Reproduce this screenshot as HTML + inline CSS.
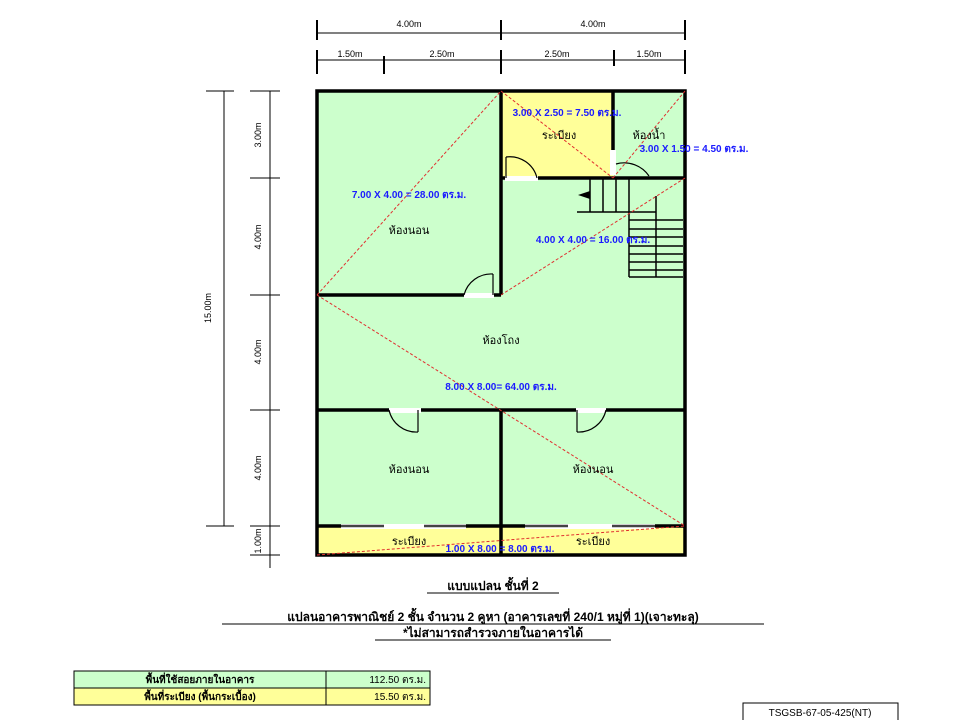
<!DOCTYPE html>
<html><head><meta charset="utf-8"><style>
html,body{margin:0;padding:0;background:#fff;width:960px;height:720px;overflow:hidden}
svg{display:block}
text{font-family:"Liberation Sans","Noto Sans CJK SC",sans-serif}
</style></head><body>
<svg width="960" height="720" viewBox="0 0 960 720" xmlns="http://www.w3.org/2000/svg">
<rect x="317" y="91" width="368" height="464" fill="#ccffcc"/>
<rect x="501" y="91" width="112" height="87" fill="#ffff99"/>
<rect x="317" y="526" width="368" height="29" fill="#ffff99"/>

<g stroke="#000" stroke-width="1" fill="none">
<line x1="317" y1="33" x2="685" y2="33"/>
<line x1="317" y1="20" x2="317" y2="40" stroke-width="2"/>
<line x1="501" y1="20" x2="501" y2="40" stroke-width="2"/>
<line x1="685" y1="20" x2="685" y2="40" stroke-width="2"/>
<line x1="317" y1="60" x2="685" y2="60"/>
<line x1="317" y1="50" x2="317" y2="74" stroke-width="2"/>
<line x1="384" y1="56" x2="384" y2="74" stroke-width="2"/>
<line x1="501" y1="50" x2="501" y2="74" stroke-width="2"/>
<line x1="614" y1="50" x2="614" y2="66" stroke-width="2"/>
<line x1="685" y1="50" x2="685" y2="74" stroke-width="2"/>
<line x1="224" y1="91" x2="224" y2="526"/>
<line x1="206" y1="91" x2="234" y2="91"/>
<line x1="206" y1="526" x2="234" y2="526"/>
<line x1="270" y1="91" x2="270" y2="568"/>
<line x1="250" y1="91" x2="280" y2="91"/>
<line x1="250" y1="178" x2="280" y2="178"/>
<line x1="250" y1="295" x2="280" y2="295"/>
<line x1="250" y1="410" x2="280" y2="410"/>
<line x1="250" y1="526" x2="280" y2="526"/>
<line x1="250" y1="555" x2="280" y2="555"/>
</g>
<g font-size="9" fill="#000" text-anchor="middle">
<text x="409" y="27">4.00m</text>
<text x="593" y="27">4.00m</text>
<text x="350" y="57">1.50m</text>
<text x="442" y="57">2.50m</text>
<text x="557" y="57">2.50m</text>
<text x="649" y="57">1.50m</text>
<text transform="translate(211,308) rotate(-90)">15.00m</text>
<text transform="translate(261,135) rotate(-90)">3.00m</text>
<text transform="translate(261,237) rotate(-90)">4.00m</text>
<text transform="translate(261,352) rotate(-90)">4.00m</text>
<text transform="translate(261,468) rotate(-90)">4.00m</text>
<text transform="translate(261,541) rotate(-90)">1.00m</text>
</g>

<g stroke="#000" stroke-width="1.5" fill="none">
<line x1="577" y1="212" x2="656" y2="212"/>
<line x1="590" y1="178" x2="590" y2="212"/>
<line x1="603" y1="178" x2="603" y2="212"/>
<line x1="616" y1="178" x2="616" y2="212"/>
<line x1="629" y1="178" x2="629" y2="277"/>
<line x1="656" y1="196" x2="656" y2="277"/>
<line x1="629" y1="220" x2="683" y2="220"/>
<line x1="629" y1="229" x2="683" y2="229"/>
<line x1="629" y1="237" x2="683" y2="237"/>
<line x1="629" y1="246" x2="683" y2="246"/>
<line x1="629" y1="254" x2="683" y2="254"/>
<line x1="629" y1="262" x2="683" y2="262"/>
<line x1="629" y1="270" x2="683" y2="270"/>
<line x1="629" y1="277" x2="683" y2="277"/>
</g>
<polygon points="578,195 590,191 590,199" fill="#000"/>

<g stroke="#000" stroke-width="3.5" fill="none">
<rect x="317" y="91" width="368" height="464"/>
<line x1="501" y1="91" x2="501" y2="295"/>
<line x1="613" y1="91" x2="613" y2="165"/>
<line x1="501" y1="178" x2="685" y2="178"/>
<line x1="317" y1="295" x2="501" y2="295"/>
<line x1="317" y1="410" x2="685" y2="410"/>
<line x1="501" y1="410" x2="501" y2="555"/>
<line x1="317" y1="526" x2="685" y2="526"/>
</g>
<g fill="#fff">
<rect x="505" y="176" width="33" height="5"/>
<rect x="464" y="293" width="30" height="5"/>
<rect x="389" y="408" width="32" height="5"/>
<rect x="576" y="408" width="30" height="5"/>
<rect x="610" y="150" width="6" height="25"/>
<rect x="341" y="524" width="125" height="5"/>
<rect x="525" y="524" width="130" height="5"/>
</g>
<g stroke="#000" stroke-width="1.2" fill="none">
<line x1="506" y1="178" x2="506" y2="157"/><path d="M506,157 A28,28 0 0 1 537,178"/>
<line x1="493" y1="295" x2="493" y2="274"/><path d="M464,295 A28,28 0 0 1 493,274"/>
<line x1="418" y1="410" x2="418" y2="432"/><path d="M389,410 A28,28 0 0 0 418,432"/>
<line x1="577" y1="410" x2="577" y2="432"/><path d="M577,432 A28,28 0 0 0 606,410"/>
<path d="M616,164 A30,30 0 0 1 649,176"/>
</g>
<g stroke="#444" stroke-width="2.5" fill="none">
<line x1="341" y1="526" x2="384" y2="526"/><line x1="424" y1="526" x2="466" y2="526"/>
<line x1="525" y1="526" x2="568" y2="526"/><line x1="612" y1="526" x2="655" y2="526"/>
</g>

<g stroke="#e03030" stroke-width="1" stroke-dasharray="3,2" fill="none">
<line x1="317" y1="295" x2="501" y2="91"/>
<line x1="501" y1="91" x2="613" y2="178"/>
<line x1="613" y1="178" x2="685" y2="91"/>
<line x1="501" y1="295" x2="685" y2="178"/>
<line x1="317" y1="295" x2="685" y2="526"/>
<line x1="317" y1="555" x2="685" y2="526"/>
</g>

<g font-size="11" fill="#000" text-anchor="middle">
<text x="559" y="139">ระเบียง</text>
<text x="649" y="139">ห้องน้ำ</text>
<text x="409" y="234">ห้องนอน</text>
<text x="501" y="344">ห้องโถง</text>
<text x="409" y="473">ห้องนอน</text>
<text x="593" y="473">ห้องนอน</text>
<text x="409" y="545">ระเบียง</text>
<text x="593" y="545">ระเบียง</text>
</g>
<g font-size="10" fill="#1a1aff" text-anchor="middle" font-weight="bold">
<text x="567" y="116">3.00 X 2.50 = 7.50 ตร.ม.</text>
<text x="694" y="152">3.00 X 1.50 = 4.50 ตร.ม.</text>
<text x="409" y="198">7.00 X 4.00 = 28.00 ตร.ม.</text>
<text x="593" y="243">4.00 X 4.00 = 16.00 ตร.ม.</text>
<text x="501" y="390">8.00 X 8.00= 64.00 ตร.ม.</text>
<text x="500" y="552">1.00 X 8.00 = 8.00 ตร.ม.</text>
</g>

<g font-size="12" fill="#000" text-anchor="middle" font-weight="bold">
<text x="493" y="590">แบบแปลน  ชั้นที่ 2</text>
<text x="493" y="621">แปลนอาคารพาณิชย์ 2 ชั้น จำนวน 2 คูหา (อาคารเลขที่ 240/1 หมู่ที่ 1)(เจาะทะลุ)</text>
<text x="493" y="637">*ไม่สามารถสำรวจภายในอาคารได้</text>
</g>
<line x1="427" y1="593" x2="559" y2="593" stroke="#000"/>
<line x1="222" y1="624" x2="764" y2="624" stroke="#000"/>
<line x1="375" y1="640" x2="611" y2="640" stroke="#000"/>

<rect x="74" y="671" width="252" height="17" fill="#ccffcc" stroke="#000"/>
<rect x="326" y="671" width="104" height="17" fill="#ccffcc" stroke="#000"/>
<rect x="74" y="688" width="252" height="17" fill="#ffff99" stroke="#000"/>
<rect x="326" y="688" width="104" height="17" fill="#ffff99" stroke="#000"/>
<g font-size="10" fill="#000">
<text x="200" y="683" text-anchor="middle" font-weight="bold">พื้นที่ใช้สอยภายในอาคาร</text>
<text x="200" y="700" text-anchor="middle" font-weight="bold">พื้นที่ระเบียง (พื้นกระเบื้อง)</text>
<text x="426" y="683" text-anchor="end">112.50 ตร.ม.</text>
<text x="426" y="700" text-anchor="end">15.50 ตร.ม.</text>
</g>
<rect x="743" y="703" width="155" height="20" fill="#fff" stroke="#000"/>
<text x="820" y="716" font-size="10" text-anchor="middle" fill="#000">TSGSB-67-05-425(NT)</text>
</svg>
</body></html>
